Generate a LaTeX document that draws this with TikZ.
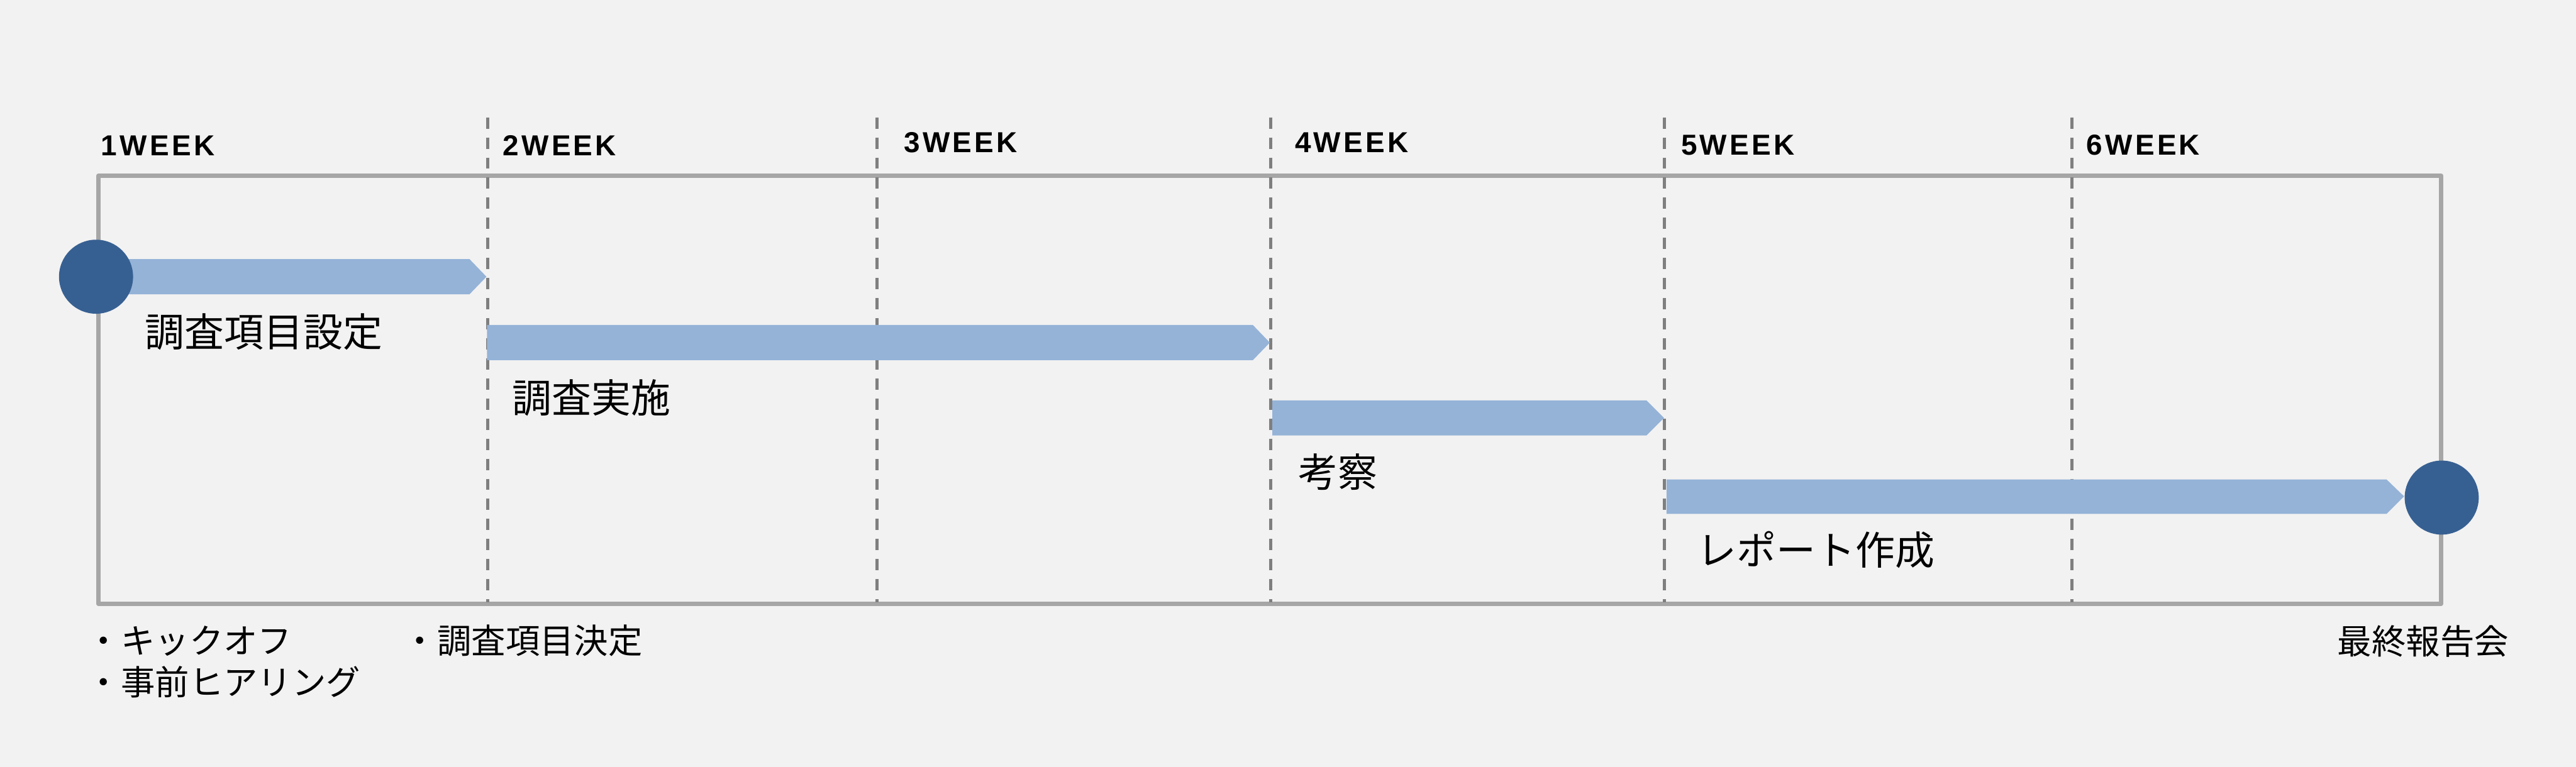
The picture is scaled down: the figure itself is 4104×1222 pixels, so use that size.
\documentclass[tikz,border=0pt]{standalone}
\usepackage{fontspec}
\setmainfont{Liberation Sans}
\newfontfamily\jpfont{Noto Sans CJK JP}
\definecolor{bgc}{HTML}{F2F2F2}
\definecolor{framec}{HTML}{A6A6A6}
\definecolor{dashc}{HTML}{7F7F7F}
\definecolor{barc}{HTML}{95B3D7}
\definecolor{dotc}{HTML}{376092}
\tikzset{
  wklab/.style={anchor=base west, inner sep=0pt, font=\fontsize{46}{46}\selectfont\bfseries},
  tasklab/.style={anchor=base west, inner sep=0pt, font=\fontsize{63}{63}\selectfont\jpfont},
  notelab/.style={anchor=base west, inner sep=0pt, align=left, font=\fontsize{54.5}{66}\selectfont\jpfont},
  weekline/.style={draw=dashc, line width=5pt, dash pattern=on 18pt off 14pt},
  framebox/.style={draw=framec, line width=7pt, line join=round},
  barshape/.style={fill=barc},
  milestone/.style={circle, fill=dotc, minimum size=118pt, inner sep=0pt}
}
\newcommand\wkk{\kern4.3pt}
\begin{document}
\begin{tikzpicture}[x=1pt,y=-1pt]
\fill[bgc] (0,0) rectangle (4104,1222);
\useasboundingbox (0,0) rectangle (4104,1222);
% frame
\draw[framebox] (157,280) rectangle (3889,962);
% week lines
\foreach \x in {777,1397,2024,2652,3301}{
  \draw[weekline] (\x,187) -- (\x,960);
}
% week labels
\node[wklab] (w1) at (161,248) {1\wkk W\wkk E\wkk E\wkk K};
\node[wklab] (w2) at (801,248) {2\wkk W\wkk E\wkk E\wkk K};
\node[wklab] (w3) at (1440,243) {3\wkk W\wkk E\wkk E\wkk K};
\node[wklab] (w4) at (2063,243) {4\wkk W\wkk E\wkk E\wkk K};
\node[wklab] (w5) at (2678,247) {5\wkk W\wkk E\wkk E\wkk K};
\node[wklab] (w6) at (3324,247) {6\wkk W\wkk E\wkk E\wkk K};
% bars
\fill[barshape] (153,413) -- (748,413) -- (775,441) -- (748,469) -- (153,469) -- cycle;
\fill[barshape] (776,518) -- (1996,518) -- (2023,546) -- (1996,574) -- (776,574) -- cycle;
\fill[barshape] (2027,638) -- (2623,638) -- (2651,666) -- (2623,694) -- (2027,694) -- cycle;
\fill[barshape] (2655,764) -- (3802,764) -- (3830,791) -- (3802,819) -- (2655,819) -- cycle;
% milestones
\node[milestone] (start) at (153,441) {};
\node[milestone] (finish) at (3890,793) {};
% task labels
\node[tasklab] (t1) at (231,553) {調査項目設定};
\node[tasklab] (t2) at (816,658) {調査実施};
\node[tasklab] (t3) at (2068,776) {考察};
\node[tasklab] (t4) at (2704,900) {レポート作成};
% notes
\node[notelab] (n1) at (138,1042) {・キックオフ};
\node[notelab] (n2) at (138,1108) {・事前ヒアリング};
\node[notelab] (n3) at (642,1042) {・調査項目決定};
\node[notelab] (n4) at (3724,1043) {最終報告会};
\end{tikzpicture}
\end{document}
